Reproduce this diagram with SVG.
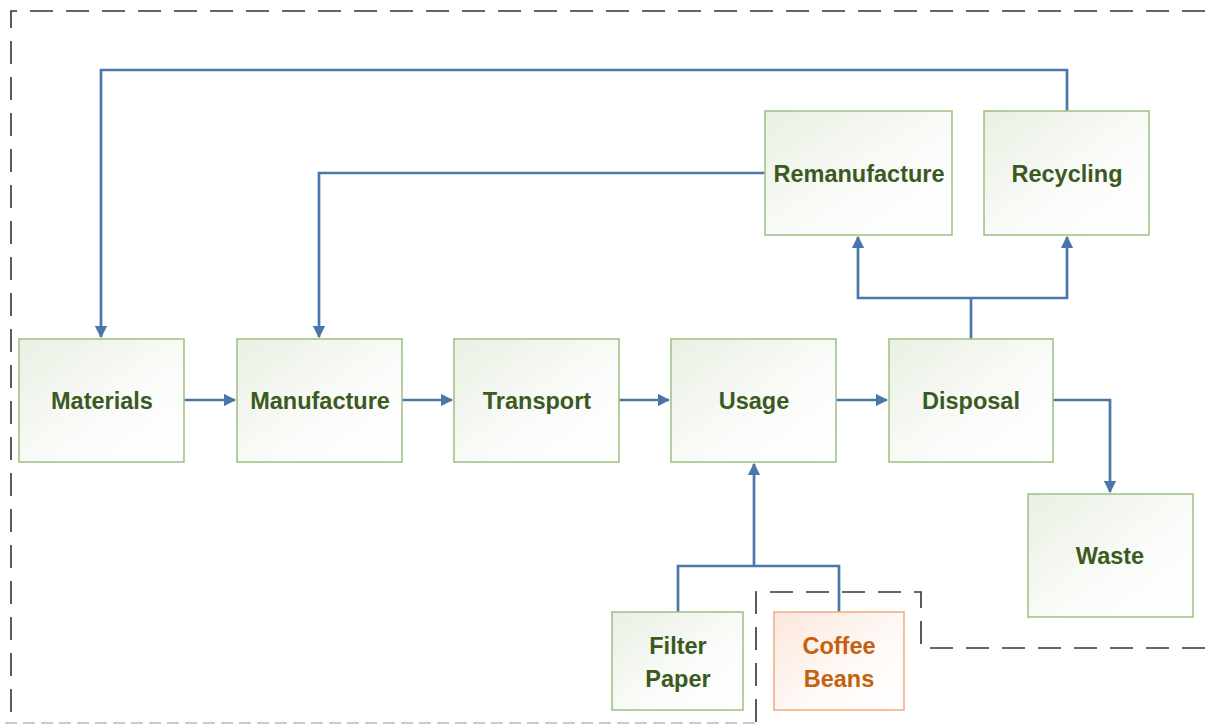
<svg xmlns="http://www.w3.org/2000/svg" width="1205" height="725" viewBox="0 0 1205 725">
<style>
.box{stroke:#a2c488;stroke-width:1.6;fill:url(#gg)}
.obox{stroke:#efb088;stroke-width:1.6;fill:url(#og)}
.t{font-family:"Liberation Sans",Arial,sans-serif;font-weight:bold;font-size:23.5px;fill:#3a5a22;text-anchor:middle}
.to{fill:#c5600f}
.c{fill:none;stroke:#4a77a8;stroke-width:2.7}
.dash{fill:none;stroke:#333;stroke-width:1.6;stroke-dasharray:23 13}
</style>
<defs>
<linearGradient id="gg" x1="0" y1="0" x2="1" y2="1">
<stop offset="0" stop-color="#e9f0e3"/><stop offset="0.6" stop-color="#fbfcfa"/><stop offset="1" stop-color="#ffffff"/>
</linearGradient>
<linearGradient id="og" x1="0" y1="0" x2="1" y2="1">
<stop offset="0" stop-color="#fbe7dd"/><stop offset="0.6" stop-color="#fffaf7"/><stop offset="1" stop-color="#ffffff"/>
</linearGradient>
<marker id="ah" viewBox="0 0 10 10" refX="9" refY="5" markerWidth="4.6" markerHeight="4.6" orient="auto" markerUnits="strokeWidth">
<path d="M0,0 L10,5 L0,10 z" fill="#4a77a8"/>
</marker>
</defs>
<rect width="1205" height="725" fill="#ffffff"/>
<g id="boundary">
<path class="dash" d="M1205,11 H11 V723"/>
<path d="M5,723 H755" fill="none" stroke="#bbbbbb" stroke-width="1.6" stroke-dasharray="12 6"/>
<path class="dash" d="M756,722 V592 H921 V648 H1205"/>
</g>
<g id="connectors">
<path class="c" marker-end="url(#ah)" d="M184,400 H235"/>
<path class="c" marker-end="url(#ah)" d="M402,400 H452"/>
<path class="c" marker-end="url(#ah)" d="M619,400 H669"/>
<path class="c" marker-end="url(#ah)" d="M836,400 H887"/>
<path class="c" marker-end="url(#ah)" d="M1053,400 H1110 V492"/>
<path class="c" d="M971,339 V298"/>
<path class="c" marker-end="url(#ah)" d="M971,298 H858 V237"/>
<path class="c" marker-end="url(#ah)" d="M971,298 H1067 V237"/>
<path class="c" marker-end="url(#ah)" d="M1067,111 V70 H101 V337"/>
<path class="c" marker-end="url(#ah)" d="M765,173 H319 V337"/>
<path class="c" d="M678,612 V566 H839 V612"/>
<path class="c" marker-end="url(#ah)" d="M754,566 V464"/>
</g>
<g id="materials"><rect class="box" x="19" y="339" width="165" height="123"/><text class="t" x="102" y="409">Materials</text></g>
<g id="manufacture"><rect class="box" x="237" y="339" width="165" height="123"/><text class="t" x="320" y="409">Manufacture</text></g>
<g id="transport"><rect class="box" x="454" y="339" width="165" height="123"/><text class="t" x="537" y="409">Transport</text></g>
<g id="usage"><rect class="box" x="671" y="339" width="165" height="123"/><text class="t" x="754" y="409">Usage</text></g>
<g id="disposal"><rect class="box" x="889" y="339" width="164" height="123"/><text class="t" x="971" y="409">Disposal</text></g>
<g id="remanufacture"><rect class="box" x="765" y="111" width="187" height="124"/><text class="t" x="859" y="182">Remanufacture</text></g>
<g id="recycling"><rect class="box" x="984" y="111" width="165" height="124"/><text class="t" x="1067" y="182">Recycling</text></g>
<g id="waste"><rect class="box" x="1028" y="494" width="165" height="123"/><text class="t" x="1110" y="564">Waste</text></g>
<g id="filter-paper"><rect class="box" x="612" y="612" width="131" height="98"/><text class="t" x="678" y="654">Filter</text><text class="t" x="678" y="687">Paper</text></g>
<g id="coffee-beans"><rect class="obox" x="774" y="612" width="130" height="98"/><text class="t to" x="839" y="654">Coffee</text><text class="t to" x="839" y="687">Beans</text></g>
</svg>
